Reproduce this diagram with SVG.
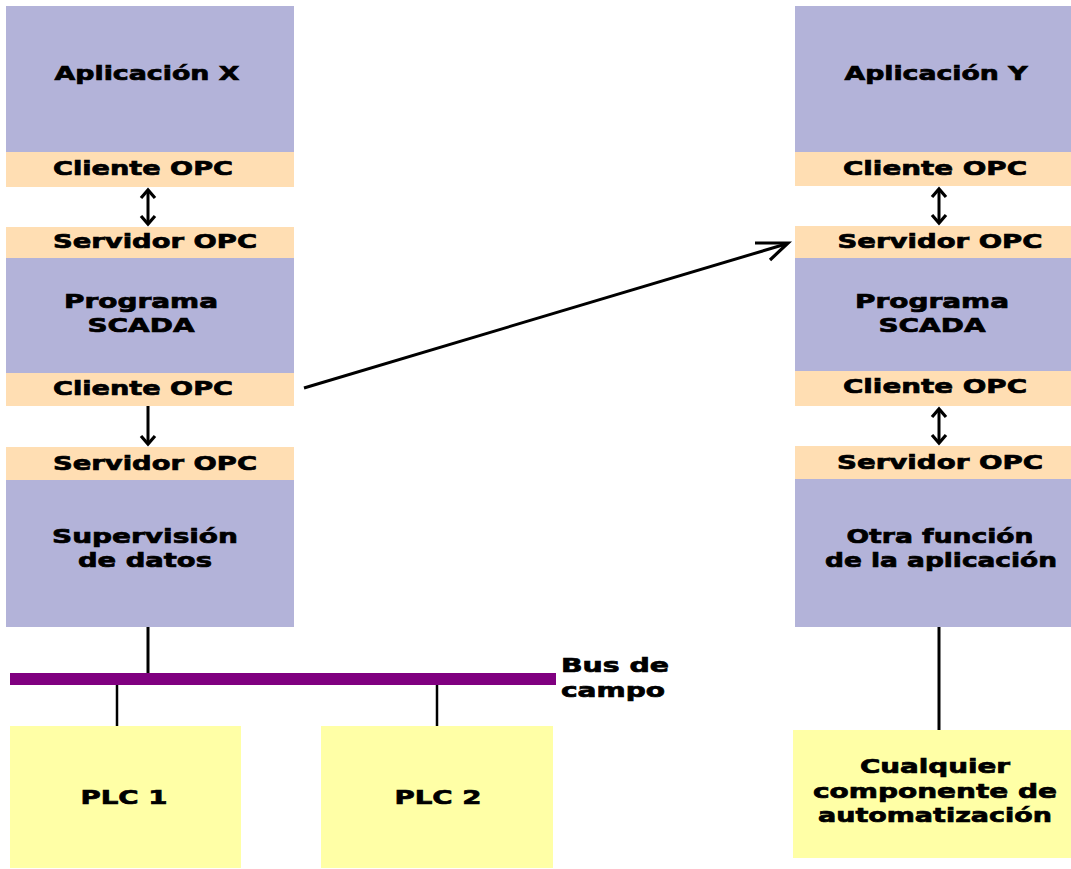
<svg xmlns="http://www.w3.org/2000/svg" width="1071" height="869" viewBox="0 0 1071 869">
  <style>
    .app { fill: #b3b3d9; }
    .opc { fill: #ffdeb3; }
    .dev { fill: #ffffa6; }
    .bus { fill: #800080; }
    .lbl { font-family: "DejaVu Sans", "Liberation Sans", sans-serif; font-weight: bold; font-size: 20px; fill: #000; stroke: #000; stroke-width: 0.7; text-anchor: middle; }
    .left { text-anchor: start; }
    .wire { stroke: #000; stroke-width: 3; fill: none; }
    .thin { stroke: #000; stroke-width: 2.5; fill: none; }
    .head { stroke: #000; stroke-width: 3.2; fill: none; stroke-linejoin: miter; }
  </style>

  <!-- Left stack: Application X -->
  <g id="app-x">
    <rect class="app" x="6" y="6" width="288" height="146"/>
    <text class="lbl" x="147" y="80" textLength="185" lengthAdjust="spacingAndGlyphs">Aplicación X</text>
  </g>
  <g id="client-x">
    <rect class="opc" x="6" y="152" width="288" height="35"/>
    <text class="lbl" x="143" y="175" textLength="180" lengthAdjust="spacingAndGlyphs">Cliente OPC</text>
  </g>
  <g id="server-scada-x">
    <rect class="opc" x="6" y="227" width="288" height="31"/>
    <text class="lbl" x="155" y="248" textLength="204" lengthAdjust="spacingAndGlyphs">Servidor OPC</text>
  </g>
  <g id="scada-x">
    <rect class="app" x="6" y="258" width="288" height="115"/>
    <text class="lbl" x="141" y="308" textLength="154" lengthAdjust="spacingAndGlyphs">Programa</text>
    <text class="lbl" x="141" y="332" textLength="107" lengthAdjust="spacingAndGlyphs">SCADA</text>
  </g>
  <g id="client-scada-x">
    <rect class="opc" x="6" y="373" width="288" height="33"/>
    <text class="lbl" x="143" y="395" textLength="180" lengthAdjust="spacingAndGlyphs">Cliente OPC</text>
  </g>
  <g id="server-sup">
    <rect class="opc" x="6" y="447" width="288" height="33"/>
    <text class="lbl" x="155" y="470" textLength="204" lengthAdjust="spacingAndGlyphs">Servidor OPC</text>
  </g>
  <g id="supervision">
    <rect class="app" x="6" y="480" width="288" height="147"/>
    <text class="lbl" x="145" y="543" textLength="186" lengthAdjust="spacingAndGlyphs">Supervisión</text>
    <text class="lbl" x="145" y="567" textLength="134" lengthAdjust="spacingAndGlyphs">de datos</text>
  </g>

  <!-- Field bus -->
  <g id="fieldbus">
    <rect class="bus" x="10" y="673" width="546" height="12"/>
    <text class="lbl left" x="561" y="672" textLength="108" lengthAdjust="spacingAndGlyphs">Bus de</text>
    <text class="lbl left" x="561" y="697" textLength="104" lengthAdjust="spacingAndGlyphs">campo</text>
  </g>
  <g id="plc1">
    <rect class="dev" x="10" y="726" width="231" height="142"/>
    <text class="lbl" x="124" y="804" textLength="87" lengthAdjust="spacingAndGlyphs">PLC 1</text>
  </g>
  <g id="plc2">
    <rect class="dev" x="321" y="726" width="232" height="142"/>
    <text class="lbl" x="438" y="804" textLength="87" lengthAdjust="spacingAndGlyphs">PLC 2</text>
  </g>

  <!-- Right stack: Application Y -->
  <g id="app-y">
    <rect class="app" x="795" y="6" width="276" height="146"/>
    <text class="lbl" x="936" y="80" textLength="183" lengthAdjust="spacingAndGlyphs">Aplicación Y</text>
  </g>
  <g id="client-y">
    <rect class="opc" x="795" y="152" width="276" height="34"/>
    <text class="lbl" x="935" y="175" textLength="184" lengthAdjust="spacingAndGlyphs">Cliente OPC</text>
  </g>
  <g id="server-scada-y">
    <rect class="opc" x="795" y="226" width="276" height="32"/>
    <text class="lbl" x="940" y="248" textLength="205" lengthAdjust="spacingAndGlyphs">Servidor OPC</text>
  </g>
  <g id="scada-y">
    <rect class="app" x="795" y="258" width="276" height="113"/>
    <text class="lbl" x="932" y="308" textLength="154" lengthAdjust="spacingAndGlyphs">Programa</text>
    <text class="lbl" x="932" y="332" textLength="107" lengthAdjust="spacingAndGlyphs">SCADA</text>
  </g>
  <g id="client-scada-y">
    <rect class="opc" x="795" y="371" width="276" height="35"/>
    <text class="lbl" x="935" y="393" textLength="184" lengthAdjust="spacingAndGlyphs">Cliente OPC</text>
  </g>
  <g id="server-func">
    <rect class="opc" x="795" y="446" width="276" height="33"/>
    <text class="lbl" x="940" y="469" textLength="206" lengthAdjust="spacingAndGlyphs">Servidor OPC</text>
  </g>
  <g id="other-func">
    <rect class="app" x="795" y="479" width="276" height="148"/>
    <text class="lbl" x="940" y="543" textLength="187" lengthAdjust="spacingAndGlyphs">Otra función</text>
    <text class="lbl" x="941" y="567" textLength="232" lengthAdjust="spacingAndGlyphs">de la aplicación</text>
  </g>
  <g id="component">
    <rect class="dev" x="793" y="730" width="278" height="128"/>
    <text class="lbl" x="935" y="773" textLength="150" lengthAdjust="spacingAndGlyphs">Cualquier</text>
    <text class="lbl" x="935" y="798" textLength="244" lengthAdjust="spacingAndGlyphs">componente de</text>
    <text class="lbl" x="935" y="822" textLength="234" lengthAdjust="spacingAndGlyphs">automatización</text>
  </g>

  <!-- Connectors -->
  <g id="connectors">
    <!-- Cliente X <-> Servidor SCADA X -->
    <line class="wire" x1="148" y1="191" x2="148" y2="223"/>
    <path class="head" d="M141,198 L148,190 L155,198"/>
    <path class="head" d="M141,216 L148,224 L155,216"/>
    <!-- Cliente SCADA X -> Servidor supervision -->
    <line class="wire" x1="148" y1="406" x2="148" y2="443"/>
    <path class="head" d="M141,436 L148,444 L155,436"/>
    <!-- Cliente SCADA X -> Servidor SCADA Y -->
    <line class="wire" x1="304" y1="388" x2="786" y2="244"/>
    <path class="head" d="M755,243 L788,243 L770,260"/>
    <!-- Cliente Y <-> Servidor SCADA Y -->
    <line class="wire" x1="939" y1="190" x2="939" y2="222"/>
    <path class="head" d="M932,197 L939,189 L946,197"/>
    <path class="head" d="M932,215 L939,223 L946,215"/>
    <!-- Cliente SCADA Y <-> Servidor function -->
    <line class="wire" x1="939" y1="410" x2="939" y2="442"/>
    <path class="head" d="M932,417 L939,409 L946,417"/>
    <path class="head" d="M932,435 L939,443 L946,435"/>
    <!-- Supervision to field bus -->
    <line class="wire" x1="148" y1="627" x2="148" y2="673"/>
    <!-- Field bus drops -->
    <line class="thin" x1="117" y1="685" x2="117" y2="726"/>
    <line class="thin" x1="437" y1="685" x2="437" y2="726"/>
    <!-- Other function to automation component -->
    <line class="wire" x1="939" y1="627" x2="939" y2="730"/>
  </g>
</svg>
